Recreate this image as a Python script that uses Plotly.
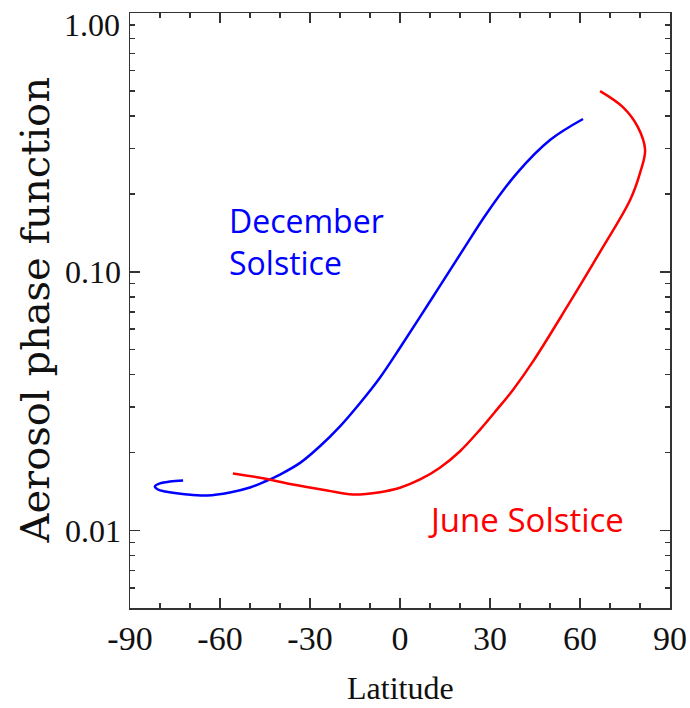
import plotly.graph_objects as go

# December Solstice (blue) – parametric path (latitude, phase function)
dec_lat = [-72.3, -76.7, -80.0, -81.7, -80.7, -78.3, -71.0, -64.3, -56.7, -50.0,
           -45.0, -40.0, -33.3, -26.7, -20.0, -13.3, -6.7, 0.0, 11.0, 21.0, 29.0, 39.0, 50.0, 61.0]
dec_val = [0.0156, 0.01546, 0.0152, 0.01479, 0.0144, 0.01414, 0.01377, 0.01365, 0.01402, 0.01466,
           0.01546, 0.01645, 0.01825, 0.02116, 0.02527, 0.03112, 0.03897, 0.05088, 0.0801, 0.1216,
           0.169, 0.241, 0.3234, 0.390]

# June Solstice (red)
jun_lat = [-55.7, -46.7, -35.7, -24.3, -15.7, -6.7, 0.0, 6.7, 13.3, 20.0, 26.7, 32.3, 37.7,
           44.3, 55.7, 66.7, 76.7, 80.0, 81.7, 79.3, 74.3, 66.7]
jun_val = [0.0166, 0.01598, 0.01505, 0.01427, 0.01377, 0.01406, 0.01462, 0.01574, 0.01747, 0.02024,
           0.02455, 0.02932, 0.03502, 0.04494, 0.0733, 0.1195, 0.1897, 0.241, 0.2958,
           0.3630, 0.4336, 0.500]

x_ticks = [-90, -60, -30, 0, 30, 60, 90]
x_ticktext = ["-90", "-60", "-30", "0", "30", "60", "90"]
y_ticks = [0.01, 0.1, 1.0]
y_ticktext = ["0.01", "0.10", ""]
y_top_label = "1.00"

fig = go.Figure()
fig.add_trace(go.Scatter(x=dec_lat, y=dec_val, mode="lines",
                         line=dict(color="#0000FF", width=2.5, shape="spline", smoothing=1.0),
                         showlegend=False, hoverinfo="skip"))
fig.add_trace(go.Scatter(x=jun_lat, y=jun_val, mode="lines",
                         line=dict(color="#FF0000", width=2.5, shape="spline", smoothing=1.0),
                         showlegend=False, hoverinfo="skip"))

axis_col = "#333333"
fig.update_xaxes(range=[-90, 90], tickvals=x_ticks, ticktext=x_ticktext, ticks="inside", ticklen=10,
                 tickwidth=1.5, tickcolor=axis_col, mirror="ticks", showline=True,
                 linecolor=axis_col, linewidth=1.5, showgrid=False, zeroline=False,
                 tickfont=dict(family="Liberation Serif", size=34, color="#111"),
                 ticklabelstandoff=0, automargin=False, ticklabeloverflow="allow",
                 minor=dict(dtick=10, ticks="inside", ticklen=5, tickcolor=axis_col, showgrid=False))
fig.update_yaxes(type="log", range=[-2.3, 0.001], tickvals=y_ticks, ticktext=y_ticktext,
                 ticks="inside", ticklen=10, tickwidth=1.5, tickcolor=axis_col, mirror="ticks",
                 showline=True, linecolor=axis_col, linewidth=1.5, showgrid=False, zeroline=False,
                 tickfont=dict(family="Liberation Serif", size=32, color="#111"),
                 ticklabelstandoff=1, automargin=False, ticklabeloverflow="allow",
                 minor=dict(dtick="D1", ticks="inside", ticklen=5, tickcolor=axis_col, showgrid=False))

# top y label, drawn slightly below the frame edge as in the original
fig.add_annotation(text=y_top_label, xref="paper", yref="paper",
                   x=(122 - 130) / 540, y=(608 - 25) / 595, xanchor="right", yanchor="middle",
                   showarrow=False, font=dict(family="Liberation Serif", size=32, color="#111"))

fig.add_annotation(text="December<br>Solstice", x=-57.6, y=-0.884, xref="x", yref="y",
                   xanchor="left", yanchor="middle", align="left", showarrow=False,
                   font=dict(family="Open Sans", size=32, color="#0000FF"))
fig.add_annotation(text="June Solstice", x=8.5, y=-1.958, xref="x", yref="y",
                   xanchor="left", yanchor="middle", align="left", showarrow=False,
                   font=dict(family="Open Sans", size=33, color="#FF0000"))
fig.add_annotation(text="Aerosol phase function", xref="paper", yref="paper",
                   x=(34 - 130) / 540, y=0.5, xanchor="center", yanchor="middle",
                   textangle=-90, showarrow=False,
                   font=dict(family="DejaVu Serif", size=40, color="#111"))
fig.add_annotation(text="Latitude", xref="paper", yref="paper",
                   x=(400 - 130) / 540, y=-(688 - 608) / 595, xanchor="center", yanchor="middle",
                   showarrow=False,
                   font=dict(family="Liberation Serif", size=32, color="#111"))

fig.update_layout(width=690, height=708, margin=dict(l=130, r=20, t=13, b=100),
                  paper_bgcolor="white", plot_bgcolor="white", hovermode=False)
fig.write_html("out.html", config={"displayModeBar": False, "staticPlot": True},
               post_script="document.body.style.margin='0';document.body.style.padding='0';"
                           "document.documentElement.style.overflow='hidden';")
